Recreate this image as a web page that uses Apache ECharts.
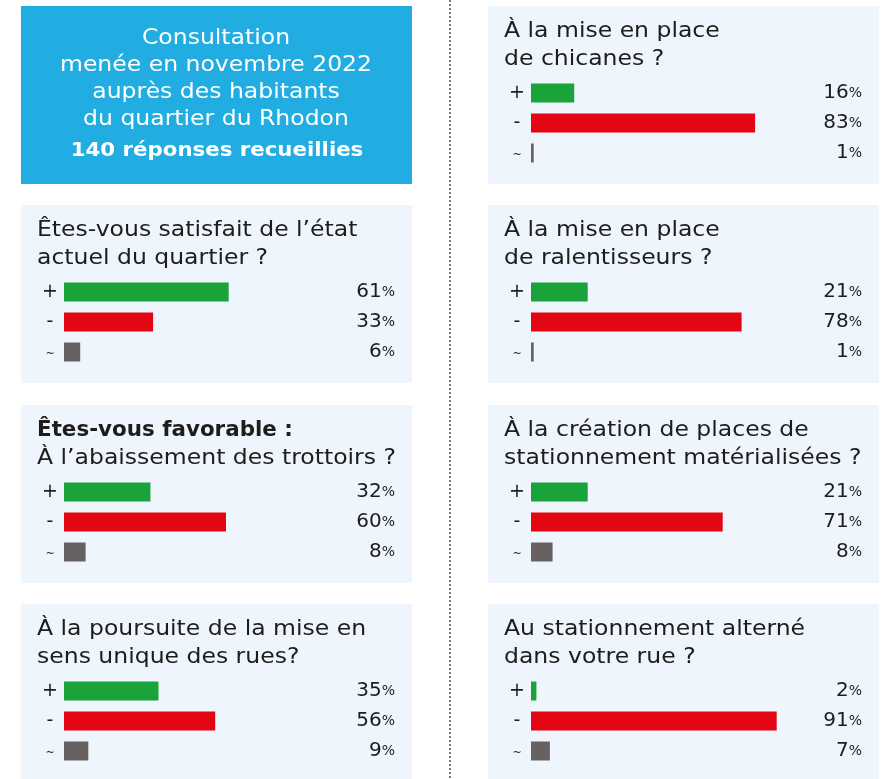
<!DOCTYPE html>
<html>
<head>
<meta charset="utf-8">
<script src="https://cdn.jsdelivr.net/npm/echarts@6/dist/echarts.min.js"></script>
<style>
  html, body { margin: 0; padding: 0; background: #fff; }
  #chart { width: 887px; height: 779px; }
</style>
</head>
<body>
<div id="chart"></div>
<script>
// answers shown on each row
const signs = ['+', '-', '~'];

// question titles, one array of lines per panel (bold first line where needed)
const questions = [
  ['Êtes-vous satisfait de l’état', 'actuel du quartier ?'],
  ['Êtes-vous favorable :', 'À l’abaissement des trottoirs ?'],
  ['À la poursuite de la mise en', 'sens unique des rues?'],
  ['À la mise en place', 'de chicanes ?'],
  ['À la mise en place', 'de ralentisseurs ?'],
  ['À la création de places de', 'stationnement matérialisées ?'],
  ['Au stationnement alterné', 'dans votre rue ?']
];
const boldFirstLine = [false, true, false, false, false, false, false];

// percentages per panel
const positive = [61, 32, 35, 16, 21, 21, 2];
const negative = [33, 60, 56, 83, 78, 71, 91];
const neutral = [6, 8, 9, 1, 1, 8, 7];

const headerLines = [
  'Consultation',
  'menée en novembre 2022',
  'auprès des habitants',
  'du quartier du Rhodon'
];
const headerBold = '140 réponses recueillies';

const colors = ['#19a33a', '#e30613', '#676261'];
const font = '"DejaVu Sans", Verdana, sans-serif';
const stretch = 1.12; // the original face is wider than anything installed

// panel layout: left column has 3 panels below the header, right column 4
const panelPos = [
  { x: 21, y: 205 }, { x: 21, y: 405 }, { x: 21, y: 604 },
  { x: 488, y: 6 }, { x: 488, y: 205 }, { x: 488, y: 405 }, { x: 488, y: 604 }
];
const panelW = 391;
const panelH = 178;

const chart = echarts.init(document.getElementById('chart'));

const grids = [], xAxes = [], yAxes = [], series = [], graphics = [];

// dotted separator
graphics.push({
  type: 'line',
  shape: { x1: 450, y1: 0, x2: 450, y2: 779 },
  style: { stroke: '#7a7a7a', lineWidth: 2, lineDash: [2, 2] },
  z: 0
});

// header box
graphics.push({
  type: 'rect',
  shape: { x: 21, y: 6, width: panelW, height: 178 },
  style: { fill: '#21ade1' },
  z: 0
});
headerLines.forEach((line, i) => {
  graphics.push({
    type: 'text',
    x: 216, y: 39 + i * 27, scaleX: stretch,
    style: { text: line, fill: '#fff', font: '21px ' + font, textAlign: 'center', textVerticalAlign: 'middle' },
    z: 1
  });
});
graphics.push({
  type: 'text',
  x: 217, y: 151, scaleX: 1.065,
  style: { text: headerBold, fill: '#fff', font: 'bold 20px ' + font, textAlign: 'center', textVerticalAlign: 'middle' },
  z: 1
});

// sign labels: the original draws "-" and "~" much smaller than "+"
const signStyle = ['plus', 'minus', 'tilde'];

panelPos.forEach((p, i) => {
  graphics.push({
    type: 'rect',
    shape: { x: p.x, y: p.y, width: panelW, height: panelH },
    style: { fill: '#eef5fc' },
    z: 0
  });
  questions[i].forEach((line, j) => {
    const bold = j === 0 && boldFirstLine[i];
    graphics.push({
      type: 'text',
      x: p.x + 16, y: p.y + 26 + j * 28, scaleX: bold ? 1.02 : stretch,
      style: {
        text: line, fill: '#1d1d1b',
        font: (bold ? 'bold ' : '') + '21px ' + font,
        textVerticalAlign: 'middle'
      },
      z: 1
    });
  });

  const vals = [positive[i], negative[i], neutral[i]];
  const gridLeft = p.x + 43;
  grids.push({ left: gridLeft, top: p.y + 72, width: 270, height: 90 });
  xAxes.push({ gridIndex: i, type: 'value', min: 0, max: 100, show: false });
  yAxes.push({
    gridIndex: i, type: 'category', data: signs, inverse: true,
    axisLine: { show: false }, axisTick: { show: false },
    axisLabel: {
      align: 'center', margin: 14,
      formatter: (v, idx) => '{' + signStyle[idx] + '|' + v + '}',
      rich: {
        plus: { fontFamily: font, fontSize: 19, color: '#1d1d1b' },
        minus: { fontFamily: font, fontSize: 19, color: '#1d1d1b' },
        tilde: { fontFamily: font, fontSize: 11, color: '#1d1d1b', padding: [4, 0, 0, 0] }
      }
    }
  });
  yAxes.push({
    gridIndex: i, type: 'category', data: signs, inverse: true, position: 'right',
    axisLine: { show: false }, axisTick: { show: false },
    axisLabel: {
      align: 'right', margin: 61,
      formatter: (v, idx) => '{n|' + vals[idx] + '}{p|%}',
      rich: {
        n: { fontFamily: font, fontSize: 20, color: '#1d1d1b' },
        p: { fontFamily: font, fontSize: 14, color: '#1d1d1b' }
      }
    }
  });
  series.push({
    type: 'bar',
    xAxisIndex: i,
    yAxisIndex: i * 2,
    barWidth: 19,
    silent: true,
    itemStyle: { color: (params) => colors[params.dataIndex] },
    data: vals
  });
});

chart.setOption({
  backgroundColor: '#fff',
  animation: false,
  grid: grids,
  xAxis: xAxes,
  yAxis: yAxes,
  graphic: graphics,
  series: series
});
</script>
</body>
</html>
